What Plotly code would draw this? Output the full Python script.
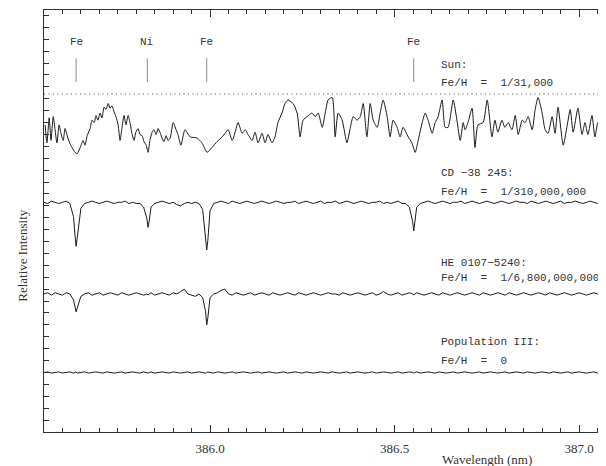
import plotly.graph_objects as go

# ---------------- data ----------------
# Solar spectrum (normalized flux)
sun_wl = [385.553, 385.558, 385.564, 385.569, 385.575, 385.580, 385.585, 385.591, 385.596, 385.602,
          385.607, 385.612, 385.618, 385.626, 385.634, 385.640, 385.648, 385.656, 385.661, 385.667,
          385.675, 385.680, 385.686, 385.691, 385.696, 385.702, 385.707, 385.713, 385.718, 385.724,
          385.729, 385.734, 385.740, 385.745, 385.751, 385.756, 385.761, 385.767, 385.772, 385.778,
          385.783, 385.789, 385.794, 385.799, 385.805, 385.810, 385.816, 385.821, 385.827, 385.832,
          385.837, 385.843, 385.848, 385.854, 385.859, 385.864, 385.870, 385.875, 385.881, 385.886,
          385.892, 385.900, 385.908, 385.913, 385.921, 385.932, 385.946, 385.965, 385.978, 385.992,
          386.005, 386.019, 386.033, 386.041, 386.049, 386.060, 386.068, 386.076, 386.087, 386.095,
          386.103, 386.114, 386.122, 386.130, 386.141, 386.149, 386.157, 386.168, 386.176, 386.184,
          386.195, 386.203, 386.211, 386.225, 386.236, 386.244, 386.252, 386.263, 386.276, 386.285,
          386.293, 386.304, 386.312, 386.320, 386.331, 386.339, 386.347, 386.358, 386.371, 386.379,
          386.388, 386.398, 386.407, 386.415, 386.425, 386.434, 386.442, 386.453, 386.461, 386.469,
          386.480, 386.488, 386.496, 386.507, 386.515, 386.523, 386.537, 386.547, 386.556, 386.564,
          386.575, 386.583, 386.591, 386.602, 386.610, 386.618, 386.629, 386.637, 386.645, 386.659,
          386.669, 386.678, 386.686, 386.691, 386.699, 386.710, 386.718, 386.726, 386.740, 386.751,
          386.764, 386.772, 386.780, 386.791, 386.799, 386.808, 386.818, 386.827, 386.835, 386.846,
          386.854, 386.862, 386.873, 386.881, 386.889, 386.900, 386.908, 386.916, 386.927, 386.935,
          386.943, 386.957, 386.967, 386.976, 386.984, 386.997, 387.008, 387.016, 387.024, 387.035,
          387.043, 387.051, 387.062, 387.070]
sun_flux = [0.74, 0.59, 0.80, 0.61, 0.81, 0.70, 0.59, 0.74, 0.67, 0.61,
            0.71, 0.66, 0.60, 0.55, 0.51, 0.50, 0.55, 0.61, 0.57, 0.65,
            0.71, 0.78, 0.76, 0.82, 0.78, 0.84, 0.80, 0.89, 0.87, 0.92,
            0.88, 0.90, 0.85, 0.81, 0.74, 0.61, 0.71, 0.82, 0.74, 0.82,
            0.76, 0.66, 0.61, 0.68, 0.71, 0.66, 0.65, 0.60, 0.57, 0.51,
            0.61, 0.68, 0.70, 0.66, 0.71, 0.68, 0.63, 0.60, 0.65, 0.61,
            0.63, 0.76, 0.70, 0.66, 0.57, 0.70, 0.64, 0.63, 0.59, 0.51,
            0.55, 0.60, 0.64, 0.67, 0.70, 0.61, 0.68, 0.76, 0.67, 0.70,
            0.66, 0.61, 0.68, 0.59, 0.67, 0.59, 0.66, 0.59, 0.64, 0.76,
            0.84, 0.92, 0.95, 0.92, 0.84, 0.64, 0.78, 0.81, 0.84, 0.81,
            0.84, 0.72, 0.84, 0.95, 0.97, 0.64, 0.84, 0.78, 0.59, 0.70,
            0.81, 0.78, 0.81, 0.92, 0.64, 0.92, 0.78, 0.72, 0.84, 0.95,
            0.81, 0.64, 0.78, 0.72, 0.64, 0.72, 0.64, 0.59, 0.51, 0.61,
            0.76, 0.84, 0.78, 0.67, 0.76, 0.81, 0.95, 0.72, 0.72, 0.95,
            0.78, 0.61, 0.76, 0.70, 0.76, 0.88, 0.55, 0.74, 0.76, 0.95,
            0.64, 0.78, 0.68, 0.78, 0.72, 0.76, 0.70, 0.82, 0.66, 0.78,
            0.76, 0.81, 0.70, 0.87, 0.97, 0.84, 0.70, 0.67, 0.81, 0.67,
            0.89, 0.57, 0.72, 0.87, 0.68, 0.88, 0.66, 0.76, 0.66, 0.82,
            0.64, 0.76, 0.66, 0.72]

# Common wavelength grid for the three metal-poor / metal-free spectra (nm)
grid_wl = [385.55, 385.56, 385.57, 385.58, 385.59, 385.60, 385.61, 385.62, 385.63,
           385.634, 385.637, 385.640,
           385.65, 385.66, 385.67, 385.68, 385.69, 385.70, 385.71, 385.72, 385.73,
           385.74, 385.75, 385.76, 385.77, 385.78, 385.79, 385.80, 385.81, 385.82,
           385.829, 385.832, 385.835,
           385.84, 385.85, 385.86, 385.87, 385.88, 385.89, 385.90, 385.91, 385.92,
           385.93, 385.94, 385.95, 385.96, 385.97, 385.98,
           385.988, 385.991, 385.994,
           386.00, 386.01, 386.02, 386.03, 386.04, 386.05, 386.06, 386.07, 386.08, 386.09,
           386.10, 386.11, 386.12, 386.13, 386.14, 386.15, 386.16, 386.17, 386.18, 386.19,
           386.20, 386.21, 386.22, 386.23, 386.24, 386.25, 386.26, 386.27, 386.28, 386.29,
           386.30, 386.31, 386.32, 386.33, 386.34, 386.35, 386.36, 386.37, 386.38, 386.39,
           386.40, 386.41, 386.42, 386.43, 386.44, 386.45, 386.46, 386.47, 386.48, 386.49,
           386.50, 386.51, 386.52, 386.53, 386.54,
           386.549, 386.552, 386.555,
           386.56, 386.57, 386.58, 386.59,
           386.60, 386.61, 386.62, 386.63, 386.64, 386.65, 386.66, 386.67, 386.68, 386.69,
           386.70, 386.71, 386.72, 386.73, 386.74, 386.75, 386.76, 386.77, 386.78, 386.79,
           386.80, 386.81, 386.82, 386.83, 386.84, 386.85, 386.86, 386.87, 386.88, 386.89,
           386.90, 386.91, 386.92, 386.93, 386.94, 386.95, 386.96, 386.97, 386.98, 386.99,
           387.00, 387.01, 387.02, 387.03, 387.04, 387.05, 387.06, 387.07]

cd_flux = [1.00, 0.99, 1.01, 1.00, 0.99, 1.00, 1.01, 0.99, 0.88,
           0.72, 0.63, 0.70,
           0.95, 0.99, 1.00, 1.01, 1.00, 0.99, 1.00, 1.01, 1.00,
           0.99, 1.00, 1.00, 1.01, 0.99, 1.00, 0.99, 0.99, 0.96,
           0.86, 0.79, 0.84,
           0.96, 0.99, 1.00, 1.01, 1.00, 0.99, 1.00, 0.98, 0.97,
           0.99, 1.00, 0.99, 1.00, 0.99, 0.94,
           0.72, 0.60, 0.68,
           0.93, 0.99, 1.00, 1.01, 1.00, 0.99, 1.01, 1.00, 0.99, 1.00,
           1.01, 1.00, 0.99, 1.00, 1.01, 1.00, 0.99, 1.00, 1.01, 1.00,
           0.99, 1.00, 1.00, 1.01, 0.99, 1.00, 1.01, 1.00, 0.99, 1.00,
           1.01, 0.99, 1.00, 1.00, 1.01, 0.99, 1.00, 1.01, 1.00, 0.99,
           1.00, 1.01, 1.00, 0.99, 1.00, 1.00, 1.01, 0.99, 1.00, 0.99,
           1.00, 1.01, 0.99, 0.99, 0.96,
           0.84, 0.76, 0.82,
           0.96, 0.99, 1.00, 1.01,
           1.00, 0.99, 1.00, 1.01, 1.00, 0.99, 1.00, 1.00, 1.01, 0.99,
           1.00, 1.01, 1.00, 0.99, 1.00, 1.01, 1.00, 0.99, 1.00, 1.01,
           1.00, 0.99, 1.00, 1.01, 1.00, 1.00, 0.99, 1.01, 1.00, 0.99,
           1.00, 1.01, 1.00, 0.99, 1.00, 1.01, 0.99, 1.00, 1.00, 1.01,
           1.00, 0.99, 1.00, 1.01, 1.00, 0.99, 1.00, 1.01]

he_flux = [1.00, 1.01, 0.99, 1.01, 1.00, 0.99, 1.01, 1.00, 0.95,
           0.89, 0.85, 0.88,
           0.98, 1.00, 1.01, 0.99, 1.00, 1.01, 0.99, 1.00, 1.01,
           1.00, 0.99, 1.01, 1.00, 0.99, 1.00, 1.01, 1.00, 0.99,
           1.00, 0.99, 1.00,
           1.01, 0.99, 1.00, 1.01, 1.00, 0.99, 1.01, 1.00, 1.02,
           1.04, 1.00, 0.99, 0.98, 1.00, 0.97,
           0.85, 0.74, 0.80,
           0.97, 1.00, 1.01, 1.03, 1.04, 1.00, 0.99, 1.01, 1.00, 0.99,
           1.00, 1.01, 0.99, 1.00, 1.01, 1.00, 0.99, 1.01, 1.00, 0.99,
           1.00, 1.01, 1.00, 0.99, 1.01, 1.00, 0.99, 1.00, 1.01, 1.00,
           0.99, 1.00, 1.01, 1.00, 1.00, 0.99, 1.01, 1.00, 0.99, 1.00,
           1.01, 1.00, 0.99, 1.00, 1.01, 0.99, 1.00, 1.02, 1.00, 0.99,
           1.00, 1.01, 0.99, 1.00, 1.01,
           1.00, 0.99, 1.00,
           1.01, 1.00, 0.99, 1.00,
           1.01, 1.00, 0.99, 1.01, 1.00, 0.99, 1.00, 1.01, 1.00, 0.99,
           1.00, 1.01, 1.00, 0.99, 1.01, 1.00, 0.99, 1.00, 1.01, 1.00,
           0.99, 1.01, 1.00, 0.99, 1.00, 1.01, 1.00, 0.99, 1.00, 1.01,
           1.00, 0.99, 1.01, 1.00, 0.99, 1.00, 1.01, 1.00, 0.99, 1.00,
           1.01, 1.00, 0.99, 1.00, 1.01, 1.00, 0.99, 1.00]

pop3_flux = [1.000, 1.005, 0.995, 1.000, 1.005, 0.995, 1.000, 1.005, 0.995,
             1.000, 1.005, 0.995,
             1.000, 1.005, 0.995, 1.000, 1.005, 1.000, 0.995, 1.005, 1.000,
             0.995, 1.000, 1.005, 0.995, 1.000, 1.005, 1.000, 0.995, 1.005,
             1.000, 0.995, 1.000,
             1.005, 0.995, 1.000, 1.005, 1.000, 0.995, 1.005, 1.000, 0.995,
             1.000, 1.005, 0.995, 1.000, 1.005, 1.000,
             0.995, 1.000, 1.005,
             1.000, 0.995, 1.005, 1.000, 0.995, 1.000, 1.005, 0.995, 1.000, 1.005,
             1.000, 0.995, 1.000, 1.005, 0.995, 1.000, 1.005, 1.000, 0.995, 1.000,
             1.005, 0.995, 1.000, 1.005, 1.000, 0.995, 1.005, 1.000, 0.995, 1.000,
             1.005, 1.000, 0.995, 1.005, 1.000, 0.995, 1.000, 1.005, 0.995, 1.000,
             1.005, 1.000, 0.995, 1.000, 1.005, 0.995, 1.000, 1.005, 1.000, 0.995,
             1.000, 1.005, 0.995, 1.000, 1.005,
             1.000, 0.995, 1.000,
             1.005, 0.995, 1.000, 1.005,
             1.000, 0.995, 1.005, 1.000, 0.995, 1.000, 1.005, 0.995, 1.000, 1.005,
             1.000, 0.995, 1.000, 1.005, 0.995, 1.000, 1.005, 1.000, 0.995, 1.000,
             1.005, 0.995, 1.000, 1.005, 1.000, 0.995, 1.005, 1.000, 0.995, 1.000,
             1.005, 1.000, 0.995, 1.005, 1.000, 0.995, 1.000, 1.005, 0.995, 1.000,
             1.005, 1.000, 0.995, 1.000, 1.005, 0.995, 1.000, 1.005]

assert len(sun_wl) == len(sun_flux)
assert len(grid_wl) == len(cd_flux) == len(he_flux) == len(pop3_flux), (
    len(grid_wl), len(cd_flux), len(he_flux), len(pop3_flux))

# vertical offsets of each spectrum (relative intensity units)
offsets = {"sun": 2.34, "cd": 1.43, "he": 0.66, "pop3": 0.0}

star_names = ["Sun:", "CD \u221238 245:", "HE 0107\u22125240:", "Population III:"]
star_feh = ["Fe/H  =  1/31,000", "Fe/H  =  1/310,000,000",
            "Fe/H  =  1/6,800,000,000", "Fe/H  =  0"]
name_y = [3.584, 2.676, 1.920, 1.256]
feh_y = [3.433, 2.517, 1.794, 1.097]
label_wl = 386.621

line_wl = [385.637, 385.830, 385.991, 386.552]
line_ids = ["Fe", "Ni", "Fe", "Fe"]
marker_y = [3.44, 3.64]
id_y = 3.777

x_ticks = [386.0, 386.5, 387.0]
x_ticklabels = ["386.0", "386.5", "387.0"]
x_range = [385.550, 387.073]
y_range = [0.5, 4.046]

# ---------------- figure ----------------
fig = go.Figure()
ink = "#1a1a1a"

fig.add_trace(go.Scatter(x=x_range, y=[1 + offsets["sun"]] * 2, mode="lines",
                         line=dict(color="#555", width=1, dash="1px,3.5px"),
                         hoverinfo="skip"))
fig.add_trace(go.Scatter(x=sun_wl, y=[f + offsets["sun"] for f in sun_flux], mode="lines",
                         line=dict(color=ink, width=1, shape="spline", smoothing=0.6)))
for key, fl in (("cd", cd_flux), ("he", he_flux), ("pop3", pop3_flux)):
    fig.add_trace(go.Scatter(x=grid_wl, y=[f + offsets[key] for f in fl], mode="lines",
                             line=dict(color=ink, width=1)))

mx, my = [], []
for w in line_wl:
    mx += [w, w, None]
    my += [marker_y[0], marker_y[1], None]
fig.add_trace(go.Scatter(x=mx, y=my, mode="lines", line=dict(color="#888", width=1)))

mono = dict(family="Liberation Mono, DejaVu Sans Mono, monospace", size=11, color="#333")
for w, t in zip(line_wl, line_ids):
    fig.add_annotation(x=w, y=id_y, text=t, showarrow=False, font=mono,
                       xanchor="center", yanchor="middle")
for n, f, yn, yf in zip(star_names, star_feh, name_y, feh_y):
    fig.add_annotation(x=label_wl, y=yn, text=n.replace(" ", "&nbsp;"), showarrow=False,
                       font=mono, xanchor="left", yanchor="middle")
    fig.add_annotation(x=label_wl, y=yf, text=f.replace(" ", "&nbsp;"), showarrow=False,
                       font=mono, xanchor="left", yanchor="middle")

serif = dict(family="Liberation Serif, Times New Roman, serif", size=13, color="#333")
fig.add_annotation(xref="paper", yref="paper", x=-0.0374, y=0.42, text="Relative Intensity",
                   textangle=-90, showarrow=False, font=serif,
                   xanchor="center", yanchor="middle")
fig.add_annotation(xref="paper", yref="paper", x=0.788, y=-0.064, text="Wavelength (nm)",
                   showarrow=False, font=serif, xanchor="center", yanchor="middle")

# The page places the figure 8 px in from the top-left corner, so the figure
# is 8 px smaller than the window and the margins are reduced accordingly.
fig.update_layout(
    width=598, height=458,
    margin=dict(l=36, r=0, t=2, b=34),
    paper_bgcolor="white", plot_bgcolor="white",
    showlegend=False,
    xaxis=dict(range=x_range, showgrid=False, zeroline=False,
               showline=True, linecolor="#333", linewidth=1, mirror="ticks",
               ticks="inside", ticklen=7, tickcolor="#333",
               tickmode="array", tickvals=x_ticks, ticktext=x_ticklabels,
               tickfont=serif, ticklabelstandoff=4,
               minor=dict(tickmode="linear", tick0=386.0, dtick=0.05, ticks="inside",
                          ticklen=4, tickcolor="#333", showgrid=False)),
    yaxis=dict(range=y_range, showgrid=False, zeroline=False,
               showline=True, linecolor="#333", linewidth=1, mirror=False,
               ticks="inside", ticklen=5, tickcolor="#333",
               tickmode="linear", tick0=0.5, dtick=0.1, showticklabels=False),
)

fig.write_html("out.html")
